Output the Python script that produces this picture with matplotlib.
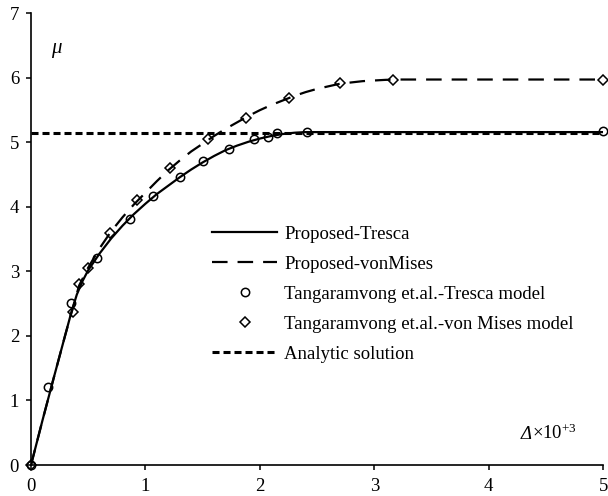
import matplotlib
matplotlib.use("Agg")
import matplotlib.pyplot as plt

plt.rcParams['font.family'] = ['Liberation Serif', 'DejaVu Serif']
plt.rcParams['mathtext.fontset'] = 'custom'
plt.rcParams['mathtext.rm'] = 'Liberation Serif'
plt.rcParams['mathtext.it'] = 'Liberation Serif:italic'

# Proposed-Tresca curve
tresca_x = [0, 0.1, 0.2, 0.3, 0.35, 0.4, 0.45, 0.5, 0.6, 0.7, 0.8, 0.9, 1.0, 1.1, 1.2, 1.3,
            1.4, 1.5, 1.6, 1.7, 1.8, 1.9, 2.0, 2.1, 2.2, 2.3, 2.4, 5.0]
tresca_y = [0, 0.69, 1.36, 2.02, 2.35, 2.64, 2.85, 3.02, 3.28, 3.51, 3.71, 3.89, 4.05, 4.2, 4.33, 4.46,
            4.58, 4.69, 4.79, 4.88, 4.95, 5.01, 5.06, 5.1, 5.13, 5.15, 5.16, 5.16]

# Proposed-vonMises curve
mises_x = [0, 0.1, 0.2, 0.3, 0.36, 0.42, 0.5, 0.6, 0.7, 0.8, 0.9, 1.0, 1.1, 1.2, 1.3, 1.4,
           1.5, 1.6, 1.7, 1.8, 1.9, 2.0, 2.1, 2.2, 2.3, 2.4, 2.5, 2.6, 2.7, 2.8, 2.9, 3.0, 3.1, 3.2, 5.0]
mises_y = [0, 0.69, 1.36, 2.02, 2.4, 2.78, 3.06, 3.36, 3.62, 3.84, 4.04, 4.22, 4.4, 4.57, 4.72, 4.86,
           4.98, 5.1, 5.21, 5.31, 5.41, 5.5, 5.58, 5.65, 5.72, 5.78, 5.83, 5.87, 5.91, 5.93, 5.95, 5.96, 5.97, 5.975, 5.975]

# Tangaramvong et al. - Tresca model
tan_tresca_x = [0, 0.15, 0.35, 0.574, 0.863, 1.07, 1.30, 1.50, 1.73, 1.95, 2.07, 2.15, 2.41, 5.0]
tan_tresca_y = [0, 1.21, 2.51, 3.21, 3.82, 4.17, 4.46, 4.71, 4.90, 5.05, 5.09, 5.14, 5.16, 5.17]

# Tangaramvong et al. - von Mises model
tan_mises_x = [0, 0.364, 0.417, 0.495, 0.688, 0.93, 1.215, 1.55, 1.877, 2.255, 2.70, 3.16, 5.0]
tan_mises_y = [0, 2.37, 2.80, 3.05, 3.60, 4.10, 4.60, 5.05, 5.38, 5.69, 5.92, 5.97, 5.975]

analytic_value = 5.14

x_ticks = [0, 1, 2, 3, 4, 5]
y_ticks = [0, 1, 2, 3, 4, 5, 6, 7]

fig = plt.figure(figsize=(6.08, 4.96), dpi=100)
ax = fig.add_axes([0.051, 0.0625, 0.941, 0.9105])

ax.plot(tresca_x, tresca_y, color='black', lw=1.6, label='Proposed-Tresca')
ax.plot(mises_x, mises_y, color='black', lw=1.6, dashes=(7, 4.5), label='Proposed-vonMises')
ax.plot(tan_tresca_x, tan_tresca_y, ls='none', marker='o', ms=6, mfc='none', mec='black', mew=1.1,
        clip_on=False, label='Tangaramvong et.al.-Tresca model')
ax.plot(tan_mises_x, tan_mises_y, ls='none', marker='D', ms=5.5, mfc='none', mec='black', mew=1.1,
        clip_on=False, label='Tangaramvong et.al.-von Mises model')
ax.axhline(analytic_value, color='black', lw=2.2, dashes=(2.3, 1.3), label='Analytic solution')

ax.set_xlim(0, 5)
ax.set_ylim(0, 7)
ax.set_xticks(x_ticks)
ax.set_yticks(y_ticks)
ax.tick_params(direction='out', length=3.6, width=1.1, labelsize=13.5, colors='black')
ax.tick_params(axis='x', pad=6)
ax.tick_params(axis='y', pad=5)
for s in ['top', 'right']:
    ax.spines[s].set_visible(False)
for s in ['left', 'bottom']:
    ax.spines[s].set_linewidth(1.2)

ax.text(0.23, 6.42, r'$\mu$', fontsize=15, ha='center', va='center')
ax.text(4.375, 0.40, 'Δ', fontsize=13.5, fontstyle='italic', ha='right', va='baseline')
ax.text(4.375, 0.40, r'×10$^{+3}$', fontsize=13.5, ha='left', va='baseline')

leg = ax.legend(loc='upper left', bbox_to_anchor=(0.316, 0.530), frameon=False, fontsize=13.5,
                handlelength=3.5, handletextpad=0.35, labelspacing=0.69, borderpad=0, borderaxespad=0)

fig.savefig('out.png', dpi=100)
